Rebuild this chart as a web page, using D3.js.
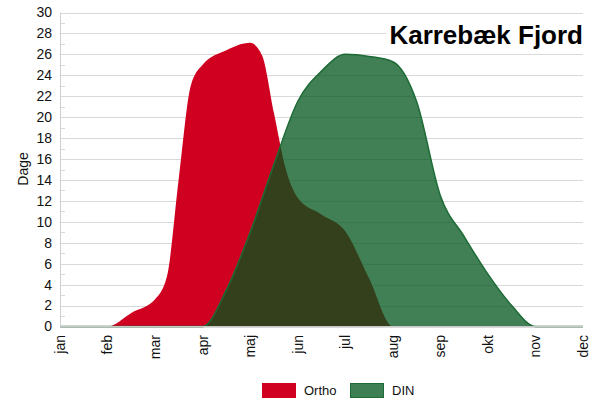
<!DOCTYPE html>
<html>
<head>
<meta charset="utf-8">
<script src="https://cdn.jsdelivr.net/npm/d3@7"></script>
<style>
  body { margin: 0; background: #fff; }
  text { font-family: "Liberation Sans", Arial, sans-serif; }
</style>
</head>
<body>
<div class="chart"></div>
<script>
// month labels on the x axis
const months = ['jan', 'feb', 'mar', 'apr', 'maj', 'jun', 'jul', 'aug', 'sep', 'okt', 'nov', 'dec'];
// positions are in months (jan = 0)
const orthoPos = [0, 1, 1.5, 2, 2.25, 2.5, 2.75, 3, 3.5, 4, 4.25, 4.5, 4.75, 5, 5.5, 6, 6.5, 7, 11];
const orthoValues = [0, 0, 1.3, 2.6, 4.8, 14.2, 23, 25, 26.4, 27.1, 25.9, 20.4, 15, 12.3, 10.7, 9.1, 4.6, 0, 0];
const dinPos = [0, 3, 3.5, 4, 4.5, 5, 5.5, 6, 6.5, 7, 7.5, 8, 8.5, 9, 9.5, 10, 11];
const dinValues = [0, 0, 3.5, 9, 15.5, 21.5, 24.4, 26, 25.8, 25.3, 21.5, 12.5, 8.6, 5, 2, 0, 0];
const seriesNames = ['Ortho', 'DIN'];
const title = 'Karrebæk Fjord';
const yLabel = 'Dage';

function draw(){
    const width = 590;
    const height = 404;
    const svg = d3.select('.chart')
        .append('svg')
        .attr('width', width)
        .attr('height', height);

    const x = d3.scaleLinear().domain([0, 11]).range([60, 583]);
    const y = d3.scaleLinear().domain([0, 30]).range([326.5, 12.5]);

    // gridlines every 2 days
    svg.append('g')
        .selectAll('line')
        .data(y.ticks(15))
        .enter()
        .append('line')
        .attr('x1', 60)
        .attr('x2', 583)
        .attr('y1', d => Math.round(y(d)) + 0.5)
        .attr('y2', d => Math.round(y(d)) + 0.5)
        .attr('stroke', '#d9d9d9')
        .attr('stroke-width', 1);

    // minor ticks at odd values
    svg.append('g')
        .selectAll('line')
        .data(d3.range(1, 30, 2))
        .enter()
        .append('line')
        .attr('x1', 60)
        .attr('x2', 65)
        .attr('y1', d => Math.round(y(d)) + 0.5)
        .attr('y2', d => Math.round(y(d)) + 0.5)
        .attr('stroke', '#d9d9d9');

    function areaFor(pos){
        return d3.area()
            .x((d, i) => x(pos[i]))
            .y0(y(0))
            .y1(d => y(d))
            .curve(d3.curveMonotoneX);
    }
    const dinLine = d3.line()
        .x((d, i) => x(dinPos[i]))
        .y(d => y(d))
        .curve(d3.curveMonotoneX);

    // Ortho, solid red
    svg.append('path')
        .datum(orthoValues)
        .attr('d', areaFor(orthoPos))
        .attr('fill', '#d00020');

    // DIN, see-through green
    svg.append('path')
        .datum(dinValues)
        .attr('d', areaFor(dinPos))
        .attr('fill', '#00561b')
        .attr('fill-opacity', 0.75);
    svg.append('path')
        .datum(dinValues)
        .attr('d', dinLine)
        .attr('fill', 'none')
        .attr('stroke', '#1d6b36')
        .attr('stroke-width', 1.5);

    // axis lines
    svg.append('line')
        .attr('x1', 60.5).attr('x2', 60.5)
        .attr('y1', y(30)).attr('y2', y(0))
        .attr('stroke', '#d0d0d0');
    svg.append('line')
        .attr('x1', 60).attr('x2', 583)
        .attr('y1', y(0)).attr('y2', y(0))
        .attr('stroke', '#c8c8c8');

    // y tick labels
    svg.append('g')
        .selectAll('text')
        .data(y.ticks(15))
        .enter()
        .append('text')
        .text(d => d)
        .attr('x', 52)
        .attr('y', d => y(d))
        .attr('dy', '0.35em')
        .attr('text-anchor', 'end')
        .attr('font-size', 14)
        .attr('fill', '#111');

    // x tick labels, rotated
    svg.append('g')
        .selectAll('text')
        .data(months)
        .enter()
        .append('text')
        .text(d => d)
        .attr('transform', (d, i) => 'translate(' + x(i) + ',335) rotate(-90)')
        .attr('dy', '0.35em')
        .attr('text-anchor', 'end')
        .attr('font-size', 14)
        .attr('fill', '#111');

    svg.append('text')
        .text(yLabel)
        .attr('transform', 'translate(28,169) rotate(-90)')
        .attr('text-anchor', 'middle')
        .attr('font-size', 14)
        .attr('fill', '#111');

    // title on a white box
    svg.append('rect')
        .attr('x', 386).attr('y', 20)
        .attr('width', 198).attr('height', 28)
        .attr('fill', '#fff');
    svg.append('text')
        .text(title)
        .attr('x', 583)
        .attr('y', 44)
        .attr('text-anchor', 'end')
        .attr('font-size', 26)
        .attr('font-weight', 'bold')
        .attr('fill', '#000');

    // legend
    const legendX = [262, 350];
    const legend = svg.append('g');
    legend.append('rect')
        .attr('x', legendX[0]).attr('y', 383)
        .attr('width', 34).attr('height', 15)
        .attr('fill', '#d00020');
    legend.append('rect')
        .attr('x', legendX[1] + 0.5).attr('y', 383.5)
        .attr('width', 33).attr('height', 14)
        .attr('fill', '#3e8054')
        .attr('stroke', '#1d6b36');
    legend.selectAll('text')
        .data(seriesNames)
        .enter()
        .append('text')
        .text(d => d)
        .attr('x', (d, i) => legendX[i] + 42)
        .attr('y', 395)
        .attr('font-size', 13)
        .attr('fill', '#111');
}

draw();
</script>
</body>
</html>
